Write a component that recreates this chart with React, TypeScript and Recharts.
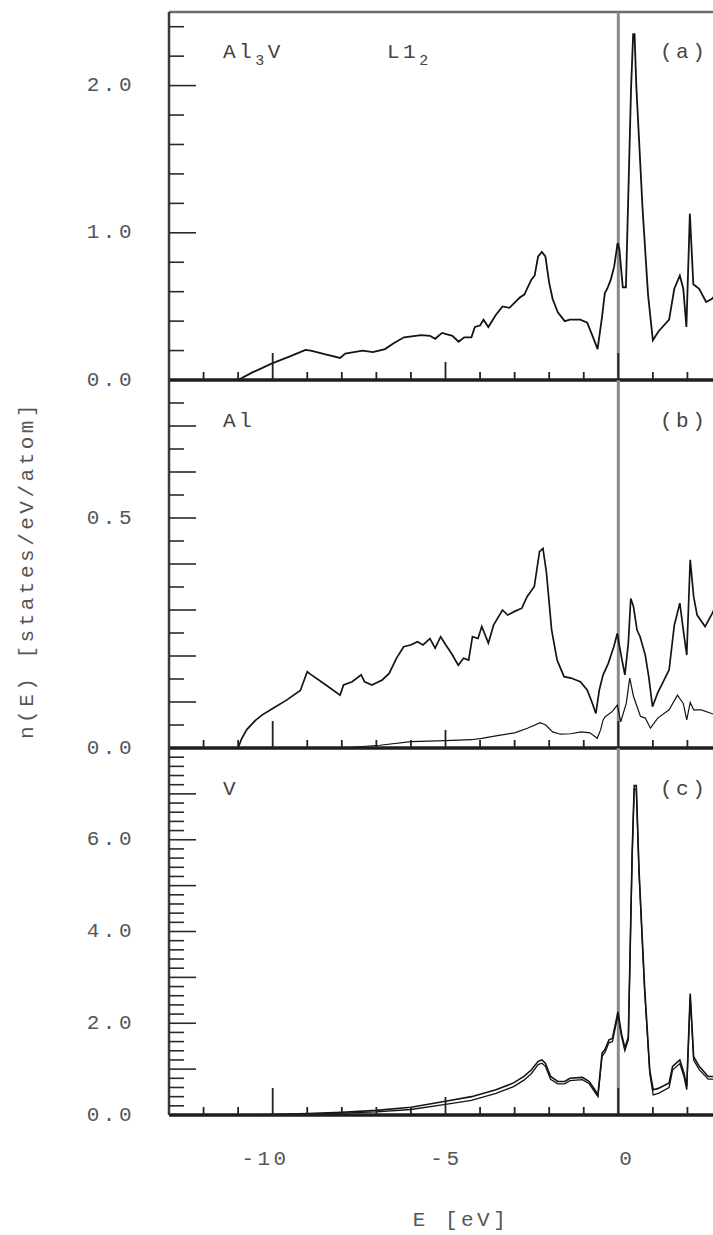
import React from "react";
import { LineChart, Line, XAxis, YAxis, ReferenceLine } from "recharts";

const FONT = '"Liberation Mono", "DejaVu Sans Mono", monospace';
const INK = "#141414";
const TXT = "#555";

// energy axis (eV)
const E_TICKS = [-12, -11, -10, -9, -8, -7, -6, -5, -4, -3, -2, -1, 0, 1, 2];
const E_LABELS = [-10, -5, 0];

// (a) Al3V total
const TOT_E = [-11.0, -10.6, -10.0, -9.5, -9.05, -8.9, -8.5, -8.05, -7.9, -7.4, -7.1, -6.75, -6.5, -6.2, -5.7, -5.45, -5.3, -5.1, -4.8, -4.62, -4.46, -4.25, -4.15, -4.0, -3.9, -3.76, -3.55, -3.35, -3.15, -2.85, -2.72, -2.52, -2.42, -2.32, -2.21, -2.11, -2.0, -1.9, -1.75, -1.55, -1.4, -1.1, -0.9, -0.73, -0.6, -0.47, -0.39, -0.32, -0.22, -0.12, -0.02, 0.03, 0.13, 0.22, 0.37, 0.43, 0.47, 0.52, 0.7, 0.86, 1.0, 1.16, 1.47, 1.62, 1.78, 1.88, 1.97, 2.07, 2.17, 2.34, 2.54, 2.7, 2.9, 3.0];
const TOT_N = [0.0, 0.05, 0.115, 0.16, 0.205, 0.2, 0.175, 0.15, 0.18, 0.2, 0.19, 0.21, 0.25, 0.29, 0.305, 0.3, 0.28, 0.32, 0.3, 0.26, 0.29, 0.29, 0.36, 0.37, 0.41, 0.36, 0.44, 0.5, 0.49, 0.56, 0.58, 0.68, 0.71, 0.84, 0.87, 0.84, 0.66, 0.55, 0.46, 0.4, 0.41, 0.41, 0.39, 0.29, 0.21, 0.43, 0.59, 0.62, 0.68, 0.77, 0.93, 0.89, 0.63, 0.63, 1.99, 2.35, 2.35, 2.0, 1.17, 0.58, 0.27, 0.33, 0.41, 0.62, 0.71, 0.62, 0.36, 1.13, 0.65, 0.62, 0.53, 0.55, 0.6, 0.62];

// (b) Al site
const AL_E = [-11.0, -10.9, -10.75, -10.5, -10.3, -10.0, -9.6, -9.2, -9.0, -8.92, -8.46, -8.05, -7.95, -7.7, -7.44, -7.34, -7.13, -6.83, -6.63, -6.42, -6.21, -6.01, -5.81, -5.65, -5.45, -5.3, -5.14, -4.99, -4.83, -4.63, -4.48, -4.33, -4.22, -4.06, -3.95, -3.76, -3.61, -3.35, -3.2, -3.0, -2.79, -2.64, -2.43, -2.28, -2.18, -2.08, -1.93, -1.77, -1.57, -1.37, -1.1, -0.9, -0.75, -0.65, -0.55, -0.44, -0.29, -0.13, -0.03, 0.07, 0.19, 0.29, 0.36, 0.44, 0.54, 0.63, 0.78, 0.88, 0.99, 1.14, 1.47, 1.62, 1.78, 1.88, 1.98, 2.08, 2.18, 2.28, 2.51, 2.72, 3.0];
const AL_N = [0.0, 0.02, 0.04, 0.06, 0.072, 0.086, 0.104, 0.125, 0.166, 0.161, 0.137, 0.115, 0.137, 0.144, 0.159, 0.144, 0.137, 0.148, 0.162, 0.195, 0.22, 0.224, 0.231, 0.224, 0.238, 0.217, 0.242, 0.224, 0.206, 0.18, 0.195, 0.191, 0.242, 0.238, 0.264, 0.228, 0.267, 0.3, 0.289, 0.297, 0.304, 0.329, 0.351, 0.427, 0.434, 0.382, 0.257, 0.191, 0.155, 0.152, 0.144, 0.126, 0.097, 0.075, 0.126, 0.159, 0.184, 0.22, 0.249, 0.206, 0.159, 0.228, 0.325, 0.307, 0.257, 0.242, 0.202, 0.155, 0.09, 0.12, 0.17, 0.267, 0.315, 0.257, 0.202, 0.409, 0.329, 0.289, 0.264, 0.293, 0.34];
const AL2_E = [-8.0, -6.9, -6.0, -5.0, -4.25, -3.95, -3.5, -3.0, -2.63, -2.26, -2.1, -1.9, -1.68, -1.38, -1.07, -0.82, -0.61, -0.51, -0.44, -0.38, -0.18, -0.03, 0.07, 0.23, 0.33, 0.44, 0.64, 0.78, 0.93, 1.14, 1.47, 1.71, 1.88, 1.98, 2.08, 2.18, 2.4, 2.7, 3.0];
const AL2_N = [0.0, 0.006, 0.014, 0.016, 0.018, 0.021, 0.027, 0.033, 0.043, 0.055, 0.05, 0.035, 0.03, 0.031, 0.035, 0.033, 0.021, 0.04, 0.061, 0.068, 0.079, 0.093, 0.057, 0.097, 0.152, 0.112, 0.069, 0.065, 0.043, 0.065, 0.083, 0.115, 0.097, 0.061, 0.099, 0.083, 0.083, 0.075, 0.07];

// (c) V site
const V_E = [-11.0, -10.0, -9.0, -8.0, -7.0, -6.0, -5.0, -4.25, -3.54, -3.03, -2.73, -2.52, -2.32, -2.21, -2.11, -1.96, -1.75, -1.55, -1.4, -1.04, -0.84, -0.68, -0.59, -0.47, -0.39, -0.27, -0.17, -0.01, 0.09, 0.19, 0.29, 0.4, 0.46, 0.52, 0.6, 0.76, 0.91, 1.01, 1.16, 1.47, 1.57, 1.78, 1.9, 1.98, 2.08, 2.18, 2.34, 2.6, 2.75, 3.0];
const V_N = [0.0, 0.01, 0.03, 0.06, 0.1, 0.17, 0.3, 0.4, 0.55, 0.7, 0.84, 0.98, 1.17, 1.2, 1.13, 0.84, 0.73, 0.73, 0.8, 0.82, 0.73, 0.55, 0.44, 1.35, 1.42, 1.64, 1.67, 2.25, 1.78, 1.46, 1.7, 5.7, 7.18, 7.18, 5.33, 2.8, 0.98, 0.55, 0.58, 0.7, 1.06, 1.2, 0.91, 0.62, 2.65, 1.27, 1.06, 0.84, 0.84, 0.9];
const V2_N = [0.0, 0.008, 0.02, 0.04, 0.07, 0.12, 0.23, 0.32, 0.47, 0.62, 0.76, 0.9, 1.1, 1.13, 1.06, 0.78, 0.68, 0.68, 0.75, 0.77, 0.68, 0.5, 0.4, 1.28, 1.36, 1.58, 1.6, 2.18, 1.72, 1.4, 1.64, 5.62, 7.1, 7.1, 5.25, 2.72, 0.9, 0.44, 0.47, 0.6, 0.98, 1.12, 0.84, 0.55, 2.57, 1.2, 0.99, 0.78, 0.78, 0.84];

// y ticks
const A_TICKS = [0, 0.2, 0.4, 0.6, 0.8, 1.0, 1.2, 1.4, 1.6, 1.8, 2.0, 2.2, 2.4];
const A_MAJOR = [1.0, 2.0];
const A_LABELS = [0, 1.0, 2.0];
const B_TICKS = [0, 0.05, 0.1, 0.15, 0.2, 0.25, 0.3, 0.35, 0.4, 0.45, 0.5, 0.55, 0.6, 0.65, 0.7, 0.75];
const B_MAJOR = [0.1, 0.2, 0.3, 0.4, 0.5, 0.6, 0.7];
const B_LABELS = [0, 0.5];
const C_MAJOR = [1, 2, 3, 4, 5, 6, 7];
const C_LABELS = [0, 2.0, 4.0, 6.0];

const steps = (a: number, b: number, d: number) => {
  const out: number[] = [];
  for (let v = a; v <= b + 1e-9; v += d) out.push(Math.round(v * 100) / 100);
  return out;
};
const C_TICKS = steps(0, 7.8, 0.2);

const pts = (xs: number[], ys: number[]) => xs.map((e, i) => ({ e, n: ys[i] }));
const has = (arr: number[], v: number) => arr.some((m) => Math.abs(m - v) < 1e-6);

const textStyle = { fontFamily: FONT, fontSize: 21, letterSpacing: 3.5, fill: TXT } as const;

function makeYTick(max: number, majors: number[], labels: number[]) {
  return (p: any) => {
    const v = p.payload.value;
    const x = p.x;
    const y = p.y;
    const len = has(majors, v) ? 27 : 15;
    return (
      <g>
        {v > 0 && v < max && <line x1={x} y1={y} x2={x + len} y2={y} stroke="#2a2a2a" strokeWidth={1.6} />}
        {has(labels, v) && (
          <text x={x - 34} y={y} textAnchor="end" dominantBaseline="central" {...textStyle}>
            {v.toFixed(1)}
          </text>
        )}
      </g>
    );
  };
}

function makeXTick(showLabels: boolean) {
  return (p: any) => {
    const v = p.payload.value;
    const len = v % 10 === 0 ? 27 : v % 5 === 0 ? 18 : 8;
    return (
      <g>
        <line x1={p.x} y1={p.y} x2={p.x} y2={p.y - len} stroke="#222" strokeWidth={1.8} />
        {showLabels && has(E_LABELS, v) && (
          <text x={p.x + 17} y={p.y + 50} textAnchor="end" {...textStyle}>
            {String(v)}
          </text>
        )}
      </g>
    );
  };
}

type S = { data: { e: number; n: number }[]; w: number };

function Panel(props: {
  top: number;
  plotH: number;
  axisH: number;
  max: number;
  ticks: number[];
  majors: number[];
  labels: number[];
  series: S[];
  showE?: boolean;
  yTitle?: boolean;
  frameTop?: boolean;
  children?: React.ReactNode;
}) {
  const { top, plotH, axisH, max, ticks, majors, labels, series, showE, yTitle, frameTop } = props;
  return (
    <div style={{ position: "absolute", left: 0, top: top - 12 }}>
      <LineChart width={722} height={12 + plotH + axisH} margin={{ top: 12, right: 0, bottom: 0, left: 0 }}>
        <XAxis
          type="number"
          dataKey="e"
          domain={[-13, 3]}
          allowDataOverflow
          ticks={E_TICKS}
          interval={0}
          tickSize={0}
          tickMargin={0}
          height={axisH}
          axisLine={{ stroke: "#1e1e1e", strokeWidth: 3.5 }}
          tickLine={false}
          tick={makeXTick(!!showE)}
          label={
            showE
              ? {
                  content: (lp: any) => (
                    <text x={461} y={lp.viewBox.y + 111} textAnchor="middle" {...textStyle}>
                      E [eV]
                    </text>
                  ),
                }
              : undefined
          }
        />
        <YAxis
          type="number"
          dataKey="n"
          domain={[0, max]}
          allowDataOverflow
          ticks={ticks}
          interval={0}
          width={169}
          tickSize={0}
          tickMargin={0}
          axisLine={{ stroke: "#3a3a3a", strokeWidth: 2.5 }}
          tickLine={false}
          tick={makeYTick(max, majors, labels)}
          label={
            yTitle
              ? {
                  content: (lp: any) => {
                    const cx = lp.viewBox.x + 27;
                    const cy = lp.viewBox.y + lp.viewBox.height / 2 + 6;
                    return (
                      <text
                        x={cx}
                        y={cy}
                        transform={`rotate(-90 ${cx} ${cy})`}
                        textAnchor="middle"
                        dominantBaseline="central"
                        {...textStyle}
                      >
                        n(E) [states/eV/atom]
                      </text>
                    );
                  },
                }
              : undefined
          }
        />
        {frameTop && <ReferenceLine y={max} stroke="#6a6a6a" strokeWidth={2.5} />}
        <ReferenceLine x={0} stroke="#8a8a8a" strokeWidth={3} />
        {series.map((s, i) => (
          <Line
            key={i}
            data={s.data}
            dataKey="n"
            type="linear"
            stroke={INK}
            strokeWidth={s.w}
            dot={false}
            activeDot={false}
            isAnimationActive={false}
          />
        ))}
        {props.children}
      </LineChart>
    </div>
  );
}

export default function App() {
  return (
    <div
      style={{
        position: "absolute",
        left: 0,
        top: 0,
        width: 713,
        height: 1235,
        overflow: "hidden",
        background: "#fff",
      }}
    >
      <Panel
        top={12}
        plotH={368}
        axisH={12}
        max={2.5}
        ticks={A_TICKS}
        majors={A_MAJOR}
        labels={A_LABELS}
        series={[{ data: pts(TOT_E, TOT_N), w: 1.8 }]}
        frameTop
      >
        <text x={223} y={58} {...textStyle} fill="#444">
          Al<tspan fontSize={15} dy={7}>3</tspan>
          <tspan dy={-7}>V</tspan>
        </text>
        <text x={387} y={58} {...textStyle} fill="#444">
          L1<tspan fontSize={15} dy={7}>2</tspan>
        </text>
        <text x={660} y={58} {...textStyle} fill="#444">
          (a)
        </text>
      </Panel>
      <Panel
        top={380}
        plotH={368}
        axisH={12}
        max={0.8}
        ticks={B_TICKS}
        majors={B_MAJOR}
        labels={B_LABELS}
        series={[
          { data: pts(AL_E, AL_N), w: 1.7 },
          { data: pts(AL2_E, AL2_N), w: 1.2 },
        ]}
        yTitle
      >
        <text x={223} y={59} {...textStyle} fill="#444">
          Al
        </text>
        <text x={660} y={59} {...textStyle} fill="#444">
          (b)
        </text>
      </Panel>
      <Panel
        top={748}
        plotH={367}
        axisH={120}
        max={8}
        ticks={C_TICKS}
        majors={C_MAJOR}
        labels={C_LABELS}
        series={[
          { data: pts(V_E, V_N), w: 1.6 },
          { data: pts(V_E, V2_N), w: 1.3 },
        ]}
        showE
      >
        <text x={223} y={59} {...textStyle} fill="#444">
          V
        </text>
        <text x={660} y={59} {...textStyle} fill="#444">
          (c)
        </text>
      </Panel>
    </div>
  );
}
